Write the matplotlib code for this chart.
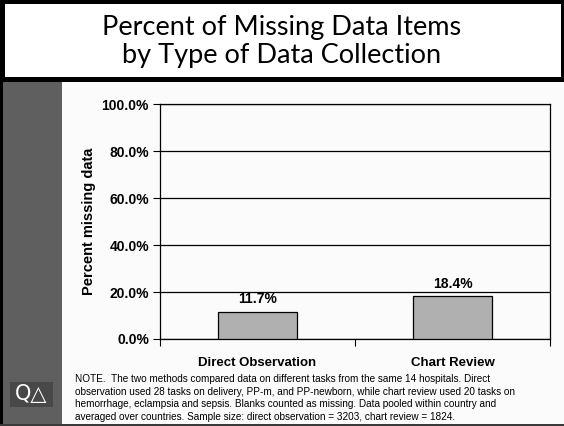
import matplotlib.pyplot as plt
from matplotlib.patches import Rectangle
from matplotlib.ticker import FuncFormatter

categories = ["Direct Observation", "Chart Review"]
pct_missing = [11.7, 18.4]
y_ticks = [0, 20, 40, 60, 80, 100]

title = "Percent of Missing Data Items\nby Type of Data Collection"
note = ("NOTE.  The two methods compared data on different tasks from the same 14 hospitals. Direct\n"
        "observation used 28 tasks on delivery, PP-m, and PP-newborn, while chart review used 20 tasks on\n"
        "hemorrhage, eclampsia and sepsis. Blanks counted as missing. Data pooled within country and\n"
        "averaged over countries. Sample size: direct observation = 3203, chart review = 1824.")

W, H = 564, 426
fig = plt.figure(figsize=(W / 100, H / 100), dpi=100, facecolor="#fbfbfb")

def px(x0, y0, w, h):
    # rectangle in pixel coords (top-left origin) -> figure fraction
    return (x0 / W, 1 - (y0 + h) / H), w / W, h / H

def box(x0, y0, w, h, color):
    xy, ww, hh = px(x0, y0, w, h)
    fig.patches.append(Rectangle(xy, ww, hh, transform=fig.transFigure,
                                 facecolor=color, edgecolor="none", zorder=0))

# frame pieces
box(0, 0, W, 82, "black")
box(5, 4, 556, 73, "white")
box(0, 82, 3, H - 82, "black")
box(3, 82, 59, H - 82, "#5f5f5f")
box(0, 424, W, 2, "#3a3a3a")
box(10, 382, 43, 25, "#484848")

fig.text(282 / W, 1 - 41 / H, title, ha="center", va="center", fontsize=19.5,
         family="Lato", linespacing=1.15)
fig.text(31 / W, 1 - 394 / H, "Q\u25b3", ha="center", va="center", fontsize=15,
         color="white", family=["DejaVu Sans", "Noto Sans CJK SC"])
fig.text(75 / W, 1 - 398 / H, note, ha="left", va="center", fontsize=7.2,
         family="Liberation Sans", linespacing=1.3)

ax = fig.add_axes([160 / W, 1 - 339 / H, 390 / W, 235 / H])
ax.set_facecolor("#fbfbfb")
x = range(len(categories))
bars = ax.bar(x, pct_missing, width=0.405, color="#b0b0b0", edgecolor="black",
              linewidth=0.9, zorder=3)
for b, v in zip(bars, pct_missing):
    ax.text(b.get_x() + b.get_width() / 2, v + 2.2, f"{v:.1f}%", ha="center",
            va="bottom", fontsize=10, fontweight="bold", family="Liberation Sans")

ax.set_xlim(-0.5, len(categories) - 0.5)
ax.set_ylim(0, 100)
ax.set_yticks(y_ticks)
ax.yaxis.set_major_formatter(FuncFormatter(lambda v, p: f"{v:.1f}%"))
ax.set_xticks([-0.5, 0.5, 1.5])
ax.set_xticklabels([])
ax.set_xticks(list(x), minor=True)
ax.set_xticklabels(categories, minor=True)
ax.tick_params(axis="x", which="minor", length=0, pad=13)
ax.tick_params(axis="x", which="major", length=5, direction="out")
ax.tick_params(axis="y", length=5, direction="out", pad=3)
for lab in ax.get_yticklabels() + ax.get_xticklabels(minor=True):
    lab.set_fontweight("bold")
    lab.set_family("Liberation Sans")
    lab.set_fontsize(10)
for lab in ax.get_xticklabels(minor=True):
    lab.set_fontsize(9.5)
ax.grid(axis="y", color="black", linewidth=0.9, zorder=0)
for s in ax.spines.values():
    s.set_linewidth(0.9)
ax.set_ylabel("Percent missing data", fontsize=10.5, fontweight="bold",
              family="Liberation Sans", labelpad=4)

plt.savefig("out.png", dpi=100, facecolor=fig.get_facecolor())
